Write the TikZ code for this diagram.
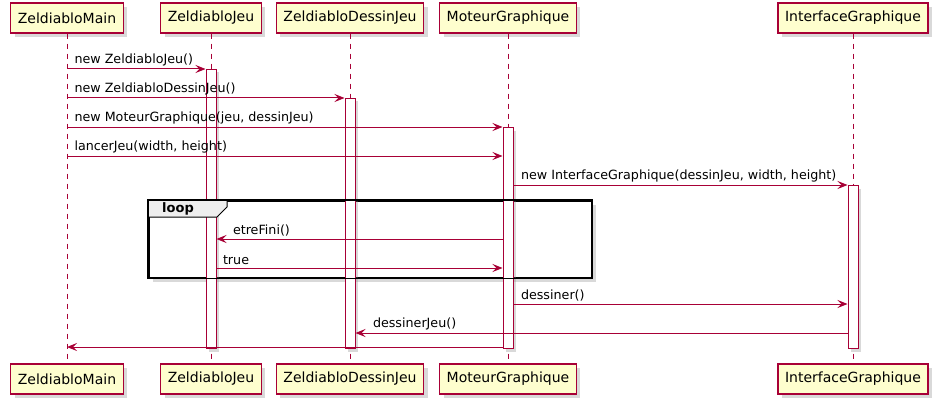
\documentclass[tikz,border=0pt]{standalone}
\usepackage{fontspec}
\setmainfont{DejaVu Sans}
\usetikzlibrary{positioning, arrows.meta, shadows}
\definecolor{umlred}{HTML}{A80036}
\definecolor{umlyellow}{HTML}{FEFECE}
\definecolor{umlgrey}{HTML}{EEEEEE}

\begin{document}
\begin{tikzpicture}[
    x=1pt, y=-1pt,
    participant/.style={rectangle, draw=umlred, fill=umlyellow, line width=1.2pt, minimum height=30pt, inner xsep=7pt, font=\fontsize{14}{16}\selectfont, drop shadow={shadow xshift=4pt, shadow yshift=-4pt, opacity=0.3}},
    activation/.style={rectangle, draw=umlred, fill=white, line width=1pt, minimum width=10pt, inner sep=0pt, anchor=north, drop shadow={shadow xshift=3pt, shadow yshift=-3pt, opacity=0.3}},
    lifeline/.style={draw=umlred, line width=1pt, dash pattern=on 5pt off 5pt},
    msg/.style={draw=umlred, line width=1pt, -{Stealth[length=10pt, width=8pt, inset=4pt]}},
    msglabel/.style={anchor=south west, inner sep=1pt, yshift=1.5pt, font=\fontsize{12.7}{15}\selectfont},
    loopframe/.style={rectangle, draw=black, fill=white, line width=1.5pt, anchor=north west, drop shadow={shadow xshift=4pt, shadow yshift=-4pt, opacity=0.3}}
]
\useasboundingbox (0,0) rectangle (946,412);

% Loop frame (background and shadow)
\node[loopframe, minimum width=443pt, minimum height=77pt] (loop) at (148,200) {};

% Participants
\node[participant] (mainT) at (67,18) {ZeldiabloMain};
\node[participant] (jeuT) at (211,18) {ZeldiabloJeu};
\node[participant] (dessinT) at (350,18) {ZeldiabloDessinJeu};
\node[participant] (moteurT) at (508,18) {MoteurGraphique};
\node[participant] (ifaceT) at (853,18) {InterfaceGraphique};

\node[participant] (mainB) at (67,379) {ZeldiabloMain};
\node[participant] (jeuB) at (211,379) {ZeldiabloJeu};
\node[participant] (dessinB) at (350,379) {ZeldiabloDessinJeu};
\node[participant] (moteurB) at (508,379) {MoteurGraphique};
\node[participant] (ifaceB) at (853,379) {InterfaceGraphique};

% Lifelines
\draw[lifeline] (mainT) -- (mainB);
\draw[lifeline] (jeuT) -- (jeuB);
\draw[lifeline] (dessinT) -- (dessinB);
\draw[lifeline] (moteurT) -- (moteurB);
\draw[lifeline] (ifaceT) -- (ifaceB);

% Message rows
\coordinate (r1) at (0,69);
\coordinate (r2) at (0,98);
\coordinate (r3) at (0,127);
\coordinate (r4) at (0,156);
\coordinate (r5) at (0,185);
\coordinate (r6) at (0,239);
\coordinate (r7) at (0,268);
\coordinate (r8) at (0,304);
\coordinate (r9) at (0,333);
\coordinate (r10) at (0,347);

% Activations
\node[activation, minimum height=279pt] (jeuA) at (jeuT |- r1) {};
\node[activation, minimum height=250pt] (dessinA) at (dessinT |- r2) {};
\node[activation, minimum height=221pt] (moteurA) at (moteurT |- r3) {};
\node[activation, minimum height=163pt] (ifaceA) at (ifaceT |- r5) {};

% Loop frame (tab and border)
\draw[fill=umlgrey, line width=1pt] (loop.north west) -- ++(79,0) -- ++(0,7) -- ++(-10,10) -- ++(-69,0) -- cycle;
\path (loop.north west) ++(14,8.5) node[anchor=west, inner sep=0pt, font=\bfseries\fontsize{13}{15}\selectfont] (looptag) {loop};
\draw[line width=1.5pt] (loop.north west) rectangle (loop.south east);

% Messages
\draw[msg] (mainT |- r1) -- (jeuA.north west) node[msglabel, at start, xshift=6pt] {new ZeldiabloJeu()};
\draw[msg] (mainT |- r2) -- (dessinA.north west) node[msglabel, at start, xshift=6pt] {new ZeldiabloDessinJeu()};
\draw[msg] (mainT |- r3) -- (moteurA.north west) node[msglabel, at start, xshift=6pt] {new MoteurGraphique(jeu, dessinJeu)};
\draw[msg] (mainT |- r4) -- (moteurA.west |- r4) node[msglabel, at start, xshift=6pt] {lancerJeu(width, height)};
\draw[msg] (moteurA.east |- r5) -- (ifaceA.north west) node[msglabel, at start, xshift=6pt] {new InterfaceGraphique(dessinJeu, width, height)};
\draw[msg] (moteurA.west |- r6) -- (jeuA.east |- r6) node[msglabel, at end, xshift=15pt] {etreFini()};
\draw[msg] (jeuA.east |- r7) -- (moteurA.west |- r7) node[msglabel, at start, xshift=5pt] {true};
\draw[msg] (moteurA.east |- r8) -- (ifaceA.west |- r8) node[msglabel, at start, xshift=6pt] {dessiner()};
\draw[msg] (ifaceA.west |- r9) -- (dessinA.east |- r9) node[msglabel, at end, xshift=16pt] {dessinerJeu()};
\draw[msg] (moteurA.west |- r10) -- (mainT |- r10);

\end{tikzpicture}
\end{document}
